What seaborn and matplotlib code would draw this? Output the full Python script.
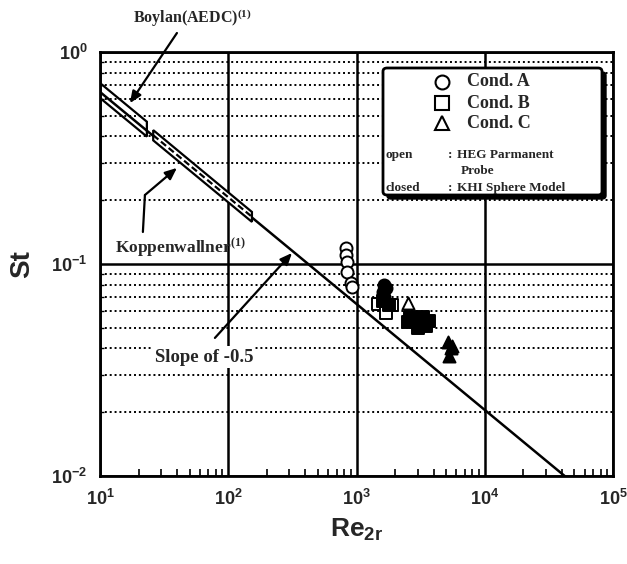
import matplotlib
matplotlib.use("Agg")
import numpy as np
import pandas as pd
import seaborn as sns
import matplotlib.pyplot as plt
from matplotlib.ticker import LogLocator, NullFormatter
from matplotlib.patches import Polygon, FancyBboxPatch
from matplotlib.lines import Line2D

# ---------------- data ----------------
cond_a_open_re = [830, 830, 840, 850, 900, 920]
cond_a_open_st = [0.119, 0.110, 0.102, 0.092, 0.081, 0.078]
cond_a_closed_re = [1650, 1600, 1700, 1640]
cond_a_closed_st = [0.080, 0.074, 0.077, 0.070]
cond_b_open_re = [1480, 1900, 1700]
cond_b_open_st = [0.065, 0.064, 0.059]
cond_b_closed_re = [1600, 1800, 2600, 2900, 3300, 3500, 3700, 3000, 2500]
cond_b_closed_st = [0.067, 0.064, 0.056, 0.053, 0.056, 0.051, 0.054, 0.050, 0.053]
cond_c_open_re = [2510]
cond_c_open_st = [0.0655]
cond_c_closed_re = [5150, 5500, 5300, 5600]
cond_c_closed_st = [0.043, 0.040, 0.037, 0.041]

slope_re = [10, 42000]
slope_st = [0.648, 0.01]

boylan_re = [10, 23.2]
boylan_upper = [0.714, 0.469]
boylan_lower = [0.607, 0.399]

kopp_re = [26, 153]
kopp_upper = [0.428, 0.176]
kopp_lower = [0.383, 0.158]
kopp_mid = [0.405, 0.167]

x_ticks = [10, 100, 1000, 10000, 100000]
x_tick_labels = [r"$\mathbf{10^{1}}$", r"$\mathbf{10^{2}}$", r"$\mathbf{10^{3}}$",
                 r"$\mathbf{10^{4}}$", r"$\mathbf{10^{5}}$"]
y_ticks = [0.01, 0.1, 1.0]
y_tick_labels = [r"$\mathbf{10^{-2}}$", r"$\mathbf{10^{-1}}$", r"$\mathbf{10^{0}}$"]

legend_labels = ["Cond. A", "Cond. B", "Cond. C"]

# ---------------- style ----------------
sns.set_style("white")
plt.rcParams["font.family"] = ["Liberation Sans", "DejaVu Sans"]
plt.rcParams["mathtext.fontset"] = "custom"
plt.rcParams["mathtext.bf"] = "Liberation Sans:bold"
plt.rcParams["mathtext.rm"] = "Liberation Serif:bold"
plt.rcParams["mathtext.it"] = "Liberation Serif:bold"

W, H = 627, 564
fig = plt.figure(figsize=(W / 100, H / 100), dpi=100)
L, R, T, B = 100, 613, 52, 476
ax = fig.add_axes([L / W, 1 - B / H, (R - L) / W, (B - T) / H])
ax.set_xscale("log")
ax.set_yscale("log")
ax.set_xlim(10, 1e5)
ax.set_ylim(0.01, 1.0)

# grid
ax.set_axisbelow(True)
ax.grid(which="major", color="black", lw=1.8, ls="-")
ax.yaxis.set_minor_locator(LogLocator(base=10, subs=range(2, 10)))
ax.xaxis.set_minor_locator(LogLocator(base=10, subs=range(2, 10)))
ax.yaxis.set_minor_formatter(NullFormatter())
ax.xaxis.set_minor_formatter(NullFormatter())
ax.yaxis.grid(True, which="minor", color="black", lw=1.4, ls=(0, (1, 1.5)))
ax.xaxis.grid(False, which="minor")

for sp in ax.spines.values():
    sp.set_linewidth(2)
    sp.set_color("black")
    sp.set_zorder(5)

ax.set_xticks(x_ticks)
ax.set_xticklabels(x_tick_labels, fontsize=13)
ax.set_yticks(y_ticks)
ax.set_yticklabels(y_tick_labels, fontsize=13)
ax.tick_params(which="major", length=0)
ax.tick_params(axis="x", which="major", pad=9)
ax.tick_params(axis="y", which="major", pad=9)
ax.tick_params(axis="x", which="minor", direction="in", length=5, width=1.2,
               bottom=True, top=False, color="black")
ax.tick_params(axis="y", which="minor", direction="in", length=3, width=1.0,
               left=True, right=False, color="black")

# slope line
sns.lineplot(x=slope_re, y=slope_st, ax=ax, color="black", lw=1.8, zorder=3)

# Boylan band (open parallelogram with slope line running through it)
boy = Polygon([[boylan_re[0], boylan_upper[0]], [boylan_re[1], boylan_upper[1]],
               [boylan_re[1], boylan_lower[1]], [boylan_re[0], boylan_lower[0]]],
              closed=True, fill=False, ec="black", lw=1.6, zorder=4)
ax.add_patch(boy)

# Koppenwallner band
kop = Polygon([[kopp_re[0], kopp_upper[0]], [kopp_re[1], kopp_upper[1]],
               [kopp_re[1], kopp_lower[1]], [kopp_re[0], kopp_lower[0]]],
              closed=True, fc="white", ec="black", lw=1.6, zorder=4)
ax.add_patch(kop)
ax.plot(kopp_re, kopp_mid, color="black", lw=1.6, ls=(0, (3, 1.5)), zorder=4.5)

# data
ms = 75
groups = [
    (cond_a_open_re, cond_a_open_st, "o", "white"),
    (cond_b_open_re, cond_b_open_st, "s", "white"),
    (cond_c_open_re, cond_c_open_st, "^", "white"),
    (cond_a_closed_re, cond_a_closed_st, "o", "black"),
    (cond_b_closed_re, cond_b_closed_st, "s", "black"),
    (cond_c_closed_re, cond_c_closed_st, "^", "black"),
]
for xs, ys, mk, fc in groups:
    df = pd.DataFrame({"Re": xs, "St": ys})
    sns.scatterplot(data=df, x="Re", y="St", ax=ax, marker=mk, s=ms,
                    color=fc, edgecolor="black", linewidth=1.4, zorder=6, legend=False)
ax.set_xlabel(r"$\mathbf{Re_{2r}}$", fontsize=19, labelpad=6)
ax.set_ylabel("St", fontsize=20, fontweight="bold", labelpad=12)

# annotations
serif = dict(family=["Liberation Serif", "DejaVu Serif"], weight="bold")
arrow = dict(arrowstyle="-|>,head_length=0.7,head_width=0.3", color="black", lw=1.6,
             shrinkA=0, shrinkB=0)
ax.annotate("", xy=(17.1, 0.574), xytext=(39.8, 1.229), arrowprops=arrow,
            annotation_clip=False, zorder=7)
ax.text(52.1, 1.446, r"Boylan(AEDC)$^{\mathrm{(1)}}$", ha="center", va="center",
        fontsize=11.5, clip_on=False, **serif)

ax.plot([21.6, 22.4], [0.1416, 0.2115], color="black", lw=1.6, zorder=7)
ax.annotate("", xy=(39.8, 0.284), xytext=(22.4, 0.2115), arrowprops=arrow, zorder=7)
ax.text(13.1, 0.119, r"Koppenwallner$^{\mathrm{(1)}}$", ha="left", va="center",
        fontsize=12.5, zorder=8, **serif)

ax.annotate("", xy=(314, 0.1127), xytext=(78.7, 0.0448), arrowprops=arrow, zorder=7)
ax.text(64.7, 0.0364, "Slope of -0.5", ha="center", va="center", fontsize=13.5,
        zorder=8, bbox=dict(fc="white", ec="none", pad=1.5), **serif)

# legend box
def axf(px, py):
    return ((px - L) / (R - L), (B - py) / (B - T))

x0, y0 = axf(383, 195)
x1, y1 = axf(602, 68)
shadow = FancyBboxPatch((x0 + 4 / (R - L), y0 - 4 / (B - T)), x1 - x0, y1 - y0,
                        boxstyle="round,pad=0,rounding_size=0.008",
                        transform=ax.transAxes, fc="black", ec="black", lw=1, zorder=9)
box = FancyBboxPatch((x0, y0), x1 - x0, y1 - y0, boxstyle="round,pad=0,rounding_size=0.008",
                     transform=ax.transAxes, fc="white", ec="black", lw=2, zorder=10)
ax.add_patch(shadow)
ax.add_patch(box)

for (mk, py), lab in zip([("o", 82), ("s", 103), ("^", 123)], legend_labels):
    mx, my = axf(442, py)
    ax.add_line(Line2D([mx], [my], marker=mk, markersize=10, mfc="white", mec="black",
                       mew=1.5, ls="none", transform=ax.transAxes, zorder=11))
    tx, ty = axf(467, py)
    ax.text(tx, ty, lab, transform=ax.transAxes, ha="left", va="center",
            fontsize=13, zorder=11, **serif)

small = dict(fontsize=9.5, zorder=11, transform=ax.transAxes, va="center", **serif)
ax.text(*axf(386, 155), "open", ha="left", **small)
ax.text(*axf(450, 155), ":", ha="center", **small)
ax.text(*axf(457, 155), "HEG Parmanent", ha="left", **small)
ax.text(*axf(461, 171), "Probe", ha="left", **small)
ax.text(*axf(385, 188), "closed", ha="left", **small)
ax.text(*axf(450, 188), ":", ha="center", **small)
ax.text(*axf(457, 188), "KHI Sphere Model", ha="left", **small)

fig.savefig("out.png", dpi=100)
